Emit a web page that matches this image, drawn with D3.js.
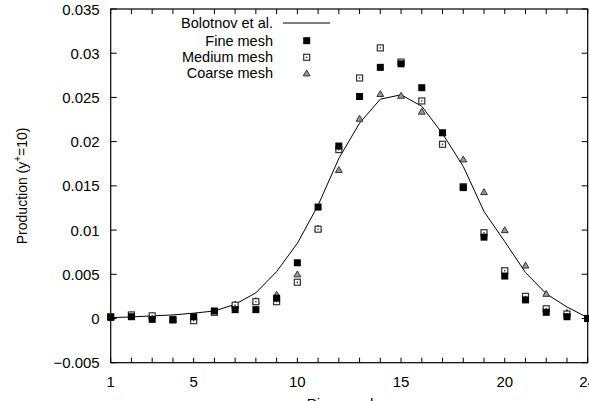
<!DOCTYPE html>
<html>
<head>
<meta charset="utf-8">
<script src="https://cdn.jsdelivr.net/npm/d3@7"></script>
<style>
  body { margin: 0; background: #fff; }
  svg text { font-family: "Liberation Sans", Arial, sans-serif; fill: #000; }
</style>
</head>
<body>
<div id="chart"></div>
<script>
// pipe positions
const positions = [1, 2, 3, 4, 5, 6, 7, 8, 9, 10, 11, 12, 13, 14, 15, 16, 17, 18, 19, 20, 21, 22, 23, 24];

const bolotnov = [0.0001, 0.00017, 0.0003, 0.0004, 0.0006, 0.00085, 0.0016, 0.0029, 0.0053, 0.0085, 0.0128, 0.0181,
    0.0221, 0.0248, 0.0253, 0.0240, 0.0209, 0.0172, 0.0121, 0.0087, 0.0052, 0.0028, 0.0013, 0.0001];

const fineMesh = [0.00013, 0.0002, -0.0001, -0.00017, 0.0002, 0.00085, 0.001, 0.001, 0.0023, 0.0063, 0.0126, 0.0195,
    0.0251, 0.0284, 0.0288, 0.0261, 0.021, 0.0148, 0.0092, 0.0048, 0.0021, 0.0007, 0.0002, 0.0];

const mediumMesh = [0.0002, 0.0004, 0.0003, -0.0001, -0.00025, 0.0007, 0.0015, 0.0019, 0.0019, 0.0041, 0.0101, 0.0191,
    0.0272, 0.0306, 0.029, 0.0246, 0.0197, 0.0149, 0.0097, 0.0054, 0.0025, 0.0011, 0.0005, 0.0];

const coarseMesh = [0.0002, 0.0004, 0.0003, -0.0001, 0.0001, 0.0008, 0.0016, 0.002, 0.0027, 0.005, 0.0102, 0.0168,
    0.0226, 0.0254, 0.0252, 0.0234, 0.021, 0.018, 0.0143, 0.01, 0.006, 0.0028, 0.00065, 0.0];

const xTickValues = [1, 5, 10, 15, 20, 24];
const yTickValues = [-0.005, 0, 0.005, 0.01, 0.015, 0.02, 0.025, 0.03, 0.035];
const legendLabels = ["Bolotnov et al.", "Fine mesh", "Medium mesh", "Coarse mesh"];

const margin = {top: 9, right: 1.3, bottom: 38.3, left: 110.7};
const totalW = 589, totalH = 401;
const width = totalW - margin.left - margin.right;
const height = totalH - margin.top - margin.bottom;

const svg = d3.select("#chart").append("svg")
    .attr("width", totalW)
    .attr("height", totalH);

const g = svg.append("g")
    .attr("transform", "translate(" + margin.left + "," + margin.top + ")");

const x = d3.scaleLinear().domain([1, 24]).range([0, width]);
const y = d3.scaleLinear().domain([-0.005, 0.035]).range([height, 0]);

const fmtY = d => d < 0 ? "\u2212" + d3.format("")(-d) : (d === 0 ? "0" : d3.format("")(+d.toFixed(3)));

// ticks (inward, mirrored on all sides)
const tickLen = 5;
const minorX = d3.range(1, 25);

g.selectAll(".xtick-b").data(minorX).enter().append("line")
    .attr("x1", d => x(d)).attr("x2", d => x(d))
    .attr("y1", height).attr("y2", height - tickLen)
    .attr("stroke", "#000").attr("stroke-width", 1);
g.selectAll(".xtick-t").data(minorX).enter().append("line")
    .attr("x1", d => x(d)).attr("x2", d => x(d))
    .attr("y1", 0).attr("y2", tickLen)
    .attr("stroke", "#000").attr("stroke-width", 1);
g.selectAll(".ytick-l").data(yTickValues).enter().append("line")
    .attr("x1", 0).attr("x2", tickLen + 1)
    .attr("y1", d => y(d)).attr("y2", d => y(d))
    .attr("stroke", "#000").attr("stroke-width", 1);
g.selectAll(".ytick-r").data(yTickValues).enter().append("line")
    .attr("x1", width).attr("x2", width - tickLen - 1)
    .attr("y1", d => y(d)).attr("y2", d => y(d))
    .attr("stroke", "#000").attr("stroke-width", 1);

// tick labels
g.selectAll(".xlabel").data(xTickValues).enter().append("text")
    .attr("x", d => x(d))
    .attr("y", height + 24)
    .attr("text-anchor", "middle")
    .attr("font-size", 15)
    .text(d => d);

g.selectAll(".ylabel").data(yTickValues).enter().append("text")
    .attr("x", -11)
    .attr("y", d => y(d) + 5.5)
    .attr("text-anchor", "end")
    .attr("font-size", 15)
    .text(fmtY);

// frame
g.append("rect")
    .attr("x", 0).attr("y", 0)
    .attr("width", width).attr("height", height)
    .attr("fill", "none")
    .attr("stroke", "#000")
    .attr("stroke-width", 1.2);

// axis titles
const yTitle = svg.append("text")
    .attr("transform", "translate(" + 27 + "," + (margin.top + height / 2) + ") rotate(-90)")
    .attr("text-anchor", "middle")
    .attr("font-size", 14);
yTitle.append("tspan").text("Production (y");
yTitle.append("tspan").attr("dy", -6).attr("font-size", 10).text("+");
yTitle.append("tspan").attr("dy", 6).text("=10)");

svg.append("text")
    .attr("x", margin.left + width / 2)
    .attr("y", 409)
    .attr("text-anchor", "middle")
    .attr("font-size", 15)
    .text("Pipe number");

// Bolotnov line
const line = d3.line()
    .x((d, i) => x(positions[i]))
    .y(d => y(d));

g.append("path")
    .datum(bolotnov)
    .attr("d", line)
    .attr("fill", "none")
    .attr("stroke", "#000")
    .attr("stroke-width", 1);

// marker helpers
function fineMarker(sel) {
    sel.append("rect")
        .attr("x", -3.5).attr("y", -3.5)
        .attr("width", 7).attr("height", 7)
        .attr("fill", "#000");
}
function mediumMarker(sel) {
    sel.append("rect")
        .attr("x", -3).attr("y", -3)
        .attr("width", 6).attr("height", 6)
        .attr("fill", "#fff")
        .attr("stroke", "#333").attr("stroke-width", 1.2);
    sel.append("rect")
        .attr("x", -0.7).attr("y", -0.7)
        .attr("width", 1.4).attr("height", 1.4)
        .attr("fill", "#333");
}
function coarseMarker(sel) {
    sel.append("path")
        .attr("d", "M0,-3.3 L3.4,2.6 L-3.4,2.6 Z")
        .attr("fill", "#999")
        .attr("stroke", "#333")
        .attr("stroke-width", 1);
}

// draw order: coarse, medium, fine
g.selectAll(".coarse").data(coarseMesh).enter().append("g")
    .attr("transform", (d, i) => "translate(" + x(positions[i]) + "," + y(d) + ")")
    .call(coarseMarker);
g.selectAll(".medium").data(mediumMesh).enter().append("g")
    .attr("transform", (d, i) => "translate(" + x(positions[i]) + "," + y(d) + ")")
    .call(mediumMarker);
g.selectAll(".fine").data(fineMesh).enter().append("g")
    .attr("transform", (d, i) => "translate(" + x(positions[i]) + "," + y(d) + ")")
    .call(fineMarker);

// legend
const legendTextX = 273, legendMarkX = 306.7;
const legendY = [23, 40.7, 57.3, 73.3];

legendLabels.forEach((lab, i) => {
    svg.append("text")
        .attr("x", legendTextX)
        .attr("y", legendY[i] + 5)
        .attr("text-anchor", "end")
        .attr("font-size", 14.5)
        .text(lab);
});
svg.append("line")
    .attr("x1", 283).attr("x2", 330)
    .attr("y1", legendY[0]).attr("y2", legendY[0])
    .attr("stroke", "#000").attr("stroke-width", 1);
svg.append("g").attr("transform", "translate(" + legendMarkX + "," + legendY[1] + ")").call(fineMarker);
svg.append("g").attr("transform", "translate(" + legendMarkX + "," + legendY[2] + ")").call(mediumMarker);
svg.append("g").attr("transform", "translate(" + legendMarkX + "," + legendY[3] + ")").call(coarseMarker);
</script>
</body>
</html>
